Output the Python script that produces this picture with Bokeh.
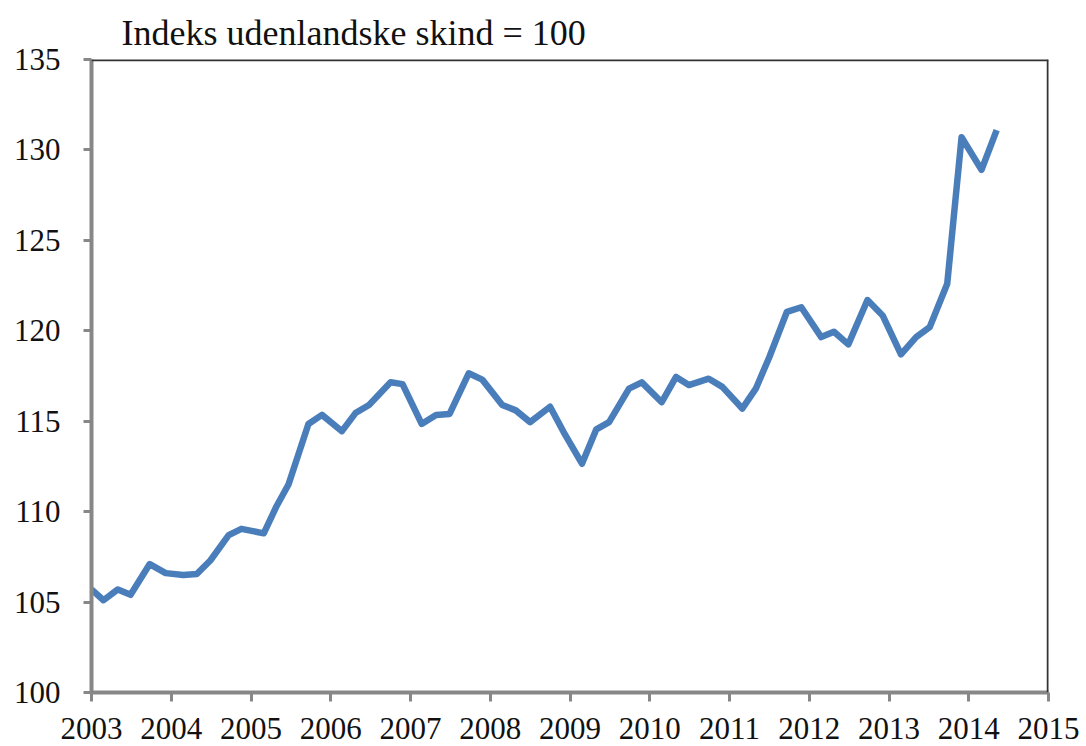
from bokeh.plotting import figure
from bokeh.models import Range1d, Span, FixedTicker, Title
from bokeh.embed import file_html
from bokeh.resources import INLINE

# Auction dates (decimal years) and index values
years = [2003.00, 2003.15, 2003.33, 2003.49, 2003.73, 2003.93,
         2004.15, 2004.32, 2004.49, 2004.72, 2004.88,
         2005.16, 2005.32, 2005.47, 2005.72, 2005.89,
         2006.14, 2006.31, 2006.48, 2006.75, 2006.90,
         2007.14, 2007.32, 2007.49, 2007.73, 2007.90,
         2008.15, 2008.32, 2008.50, 2008.75, 2008.92,
         2009.15, 2009.33, 2009.49, 2009.74, 2009.90,
         2010.15, 2010.33, 2010.49, 2010.74, 2010.91,
         2011.16, 2011.33, 2011.50, 2011.72, 2011.90,
         2012.15, 2012.31, 2012.49, 2012.73, 2012.92,
         2013.15, 2013.34, 2013.51, 2013.73, 2013.91,
         2014.16, 2014.35]
index = [105.7, 105.1, 105.7, 105.4, 107.1, 106.6,
         106.5, 106.55, 107.3, 108.7, 109.05,
         108.8, 110.3, 111.5, 114.85, 115.35,
         114.45, 115.45, 115.9, 117.15, 117.05,
         114.85, 115.35, 115.4, 117.65, 117.3,
         115.9, 115.6, 114.95, 115.8, 114.4,
         112.65, 114.55, 114.95, 116.8, 117.15,
         116.05, 117.45, 117.0, 117.35, 116.9,
         115.7, 116.8, 118.55, 121.05, 121.3,
         119.65, 119.95, 119.25, 121.7, 120.85,
         118.7, 119.65, 120.2, 122.6, 130.7,
         128.9, 131.1]

x_ticks = list(range(2003, 2016))
y_ticks = [100, 105, 110, 115, 120, 125, 130, 135]
title_text = "Indeks udenlandske skind = 100"

FONT = "Liberation Serif"
AXIS_GRAY = "#878787"

p = figure(width=1086, height=746, output_backend="svg", toolbar_location=None,
           x_range=Range1d(2003, 2015), y_range=Range1d(100, 135),
           min_border_left=91, min_border_top=59, min_border_right=38, min_border_bottom=54)
p.outline_line_color = None
p.grid.visible = False
p.background_fill_color = "white"
p.border_fill_color = "white"

p.line(years, index, line_color="#4a7ebb", line_width=6.5, line_join="round")

for ax, ticks in ((p.xaxis, x_ticks), (p.yaxis, y_ticks)):
    ax.ticker = FixedTicker(ticks=ticks)
    ax.axis_line_color = AXIS_GRAY
    ax.axis_line_width = 4
    ax.major_tick_line_color = AXIS_GRAY
    ax.major_tick_line_width = 3
    ax.major_tick_in = 0
    ax.minor_tick_line_color = None
    ax.major_label_text_font = FONT
    ax.major_label_text_font_size = "31px"
    ax.major_label_text_color = "#111111"

p.xaxis.major_tick_out = 9
p.xaxis.major_label_standoff = 16
p.yaxis.major_tick_out = 8
p.yaxis.major_label_standoff = 23

p.add_layout(Span(location=2015, dimension="height", line_color="#333333", line_width=3.5))
p.add_layout(Span(location=135, dimension="width", line_color="#333333", line_width=3.5))

p.add_layout(Title(text=title_text, align="left", offset=30, standoff=14,
                   text_font=FONT, text_font_size="36px", text_font_style="normal",
                   text_color="#111111"), "above")

open("out.html", "w").write(file_html(p, INLINE))
